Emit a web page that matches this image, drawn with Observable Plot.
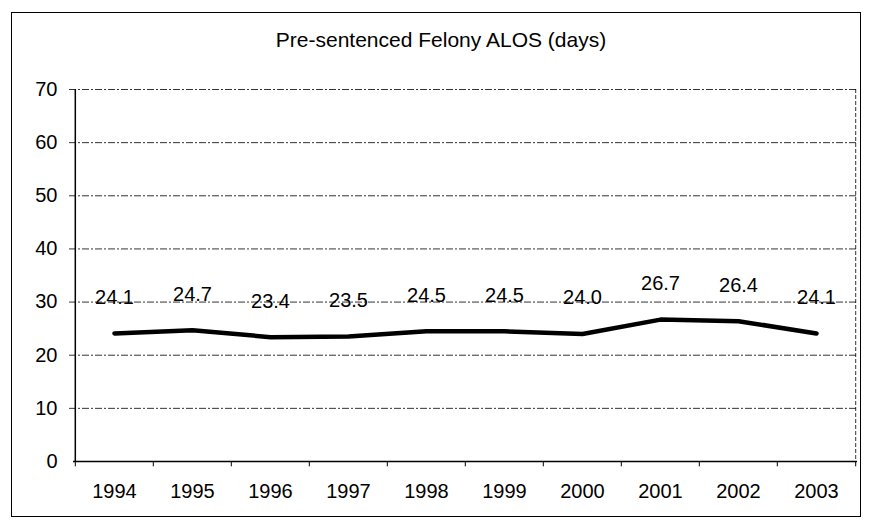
<!DOCTYPE html>
<html>
<head>
<meta charset="utf-8">
<script src="https://cdn.jsdelivr.net/npm/d3@7"></script>
<script src="https://cdn.jsdelivr.net/npm/@observablehq/plot@0.6"></script>
<style>
  body { margin: 0; background: #fff; font-family: "Liberation Sans", Arial, sans-serif; }
  #wrap { position: relative; width: 870px; height: 527px; }
  #frame { position: absolute; left: 11px; top: 12px; width: 850px; height: 505px; border: 1.5px solid #000; box-sizing: border-box; pointer-events: none; }
  #title { position: absolute; left: 6px; width: 870px; top: 28px; text-align: center; font-size: 21px; color: #000; }
  #chart { position: absolute; left: 0; top: 0; }
</style>
</head>
<body>
<div id="wrap">
  <div id="chart"></div>
  <div id="frame"></div>
  <div id="title">Pre-sentenced Felony ALOS (days)</div>
</div>
<script>
const years = ["1994","1995","1996","1997","1998","1999","2000","2001","2002","2003"];
const alos = [24.1, 24.7, 23.4, 23.5, 24.5, 24.5, 24.0, 26.7, 26.4, 24.1];
const yTicks = [0, 10, 20, 30, 40, 50, 60, 70];

const data = years.map((y, i) => ({year: y, value: alos[i]}));
const W = 870, H = 527, mL = 73, mR = 13;
const bw = (W - mL - mR) / years.length;

const chart = Plot.plot({
  width: W,
  height: H,
  marginLeft: mL,
  marginRight: mR,
  marginTop: 89,
  marginBottom: 66,
  style: {fontFamily: "'Liberation Sans', Arial, sans-serif", fontSize: "20px", color: "#000", background: "transparent"},
  x: {type: "band", domain: years, padding: 0, label: null},
  y: {domain: [0, 70], ticks: yTicks, label: null},
  marks: [
    Plot.ruleY(yTicks.filter(d => d > 0), {stroke: "#000", strokeWidth: 1, strokeDasharray: "7,2,2,2", strokeOpacity: 0.8, insetLeft: -4}),
    Plot.ruleX([years[years.length - 1]], {dx: bw / 2, stroke: "#000", strokeWidth: 1, strokeDasharray: "4,2", strokeOpacity: 0.8}),
    Plot.ruleX(years, {x: d => d, dx: -bw / 2, y1: 0, y2: -1, stroke: "#000"}),
    Plot.ruleX([years[years.length - 1]], {dx: bw / 2, y1: 0, y2: -1, stroke: "#000"}),
    Plot.ruleX([years[0]], {dx: -bw / 2, stroke: "#000", strokeWidth: 1.5}),
    Plot.ruleY([0], {stroke: "#000", strokeWidth: 1.5}),
    Plot.axisY({ticks: yTicks, tickSize: 0, tickPadding: 16, fontSize: 20, label: null}),
    Plot.axisX({tickSize: 0, tickPadding: 22, fontSize: 20, label: null}),
    Plot.line(data, {x: "year", y: "value", stroke: "#000", strokeWidth: 4.5, curve: "linear"}),
    Plot.text(data, {x: "year", y: "value", text: d => d.value.toFixed(1), dy: -36, fontSize: 20, fill: "#000"})
  ]
});
document.getElementById("chart").appendChild(chart);
</script>
</body>
</html>
